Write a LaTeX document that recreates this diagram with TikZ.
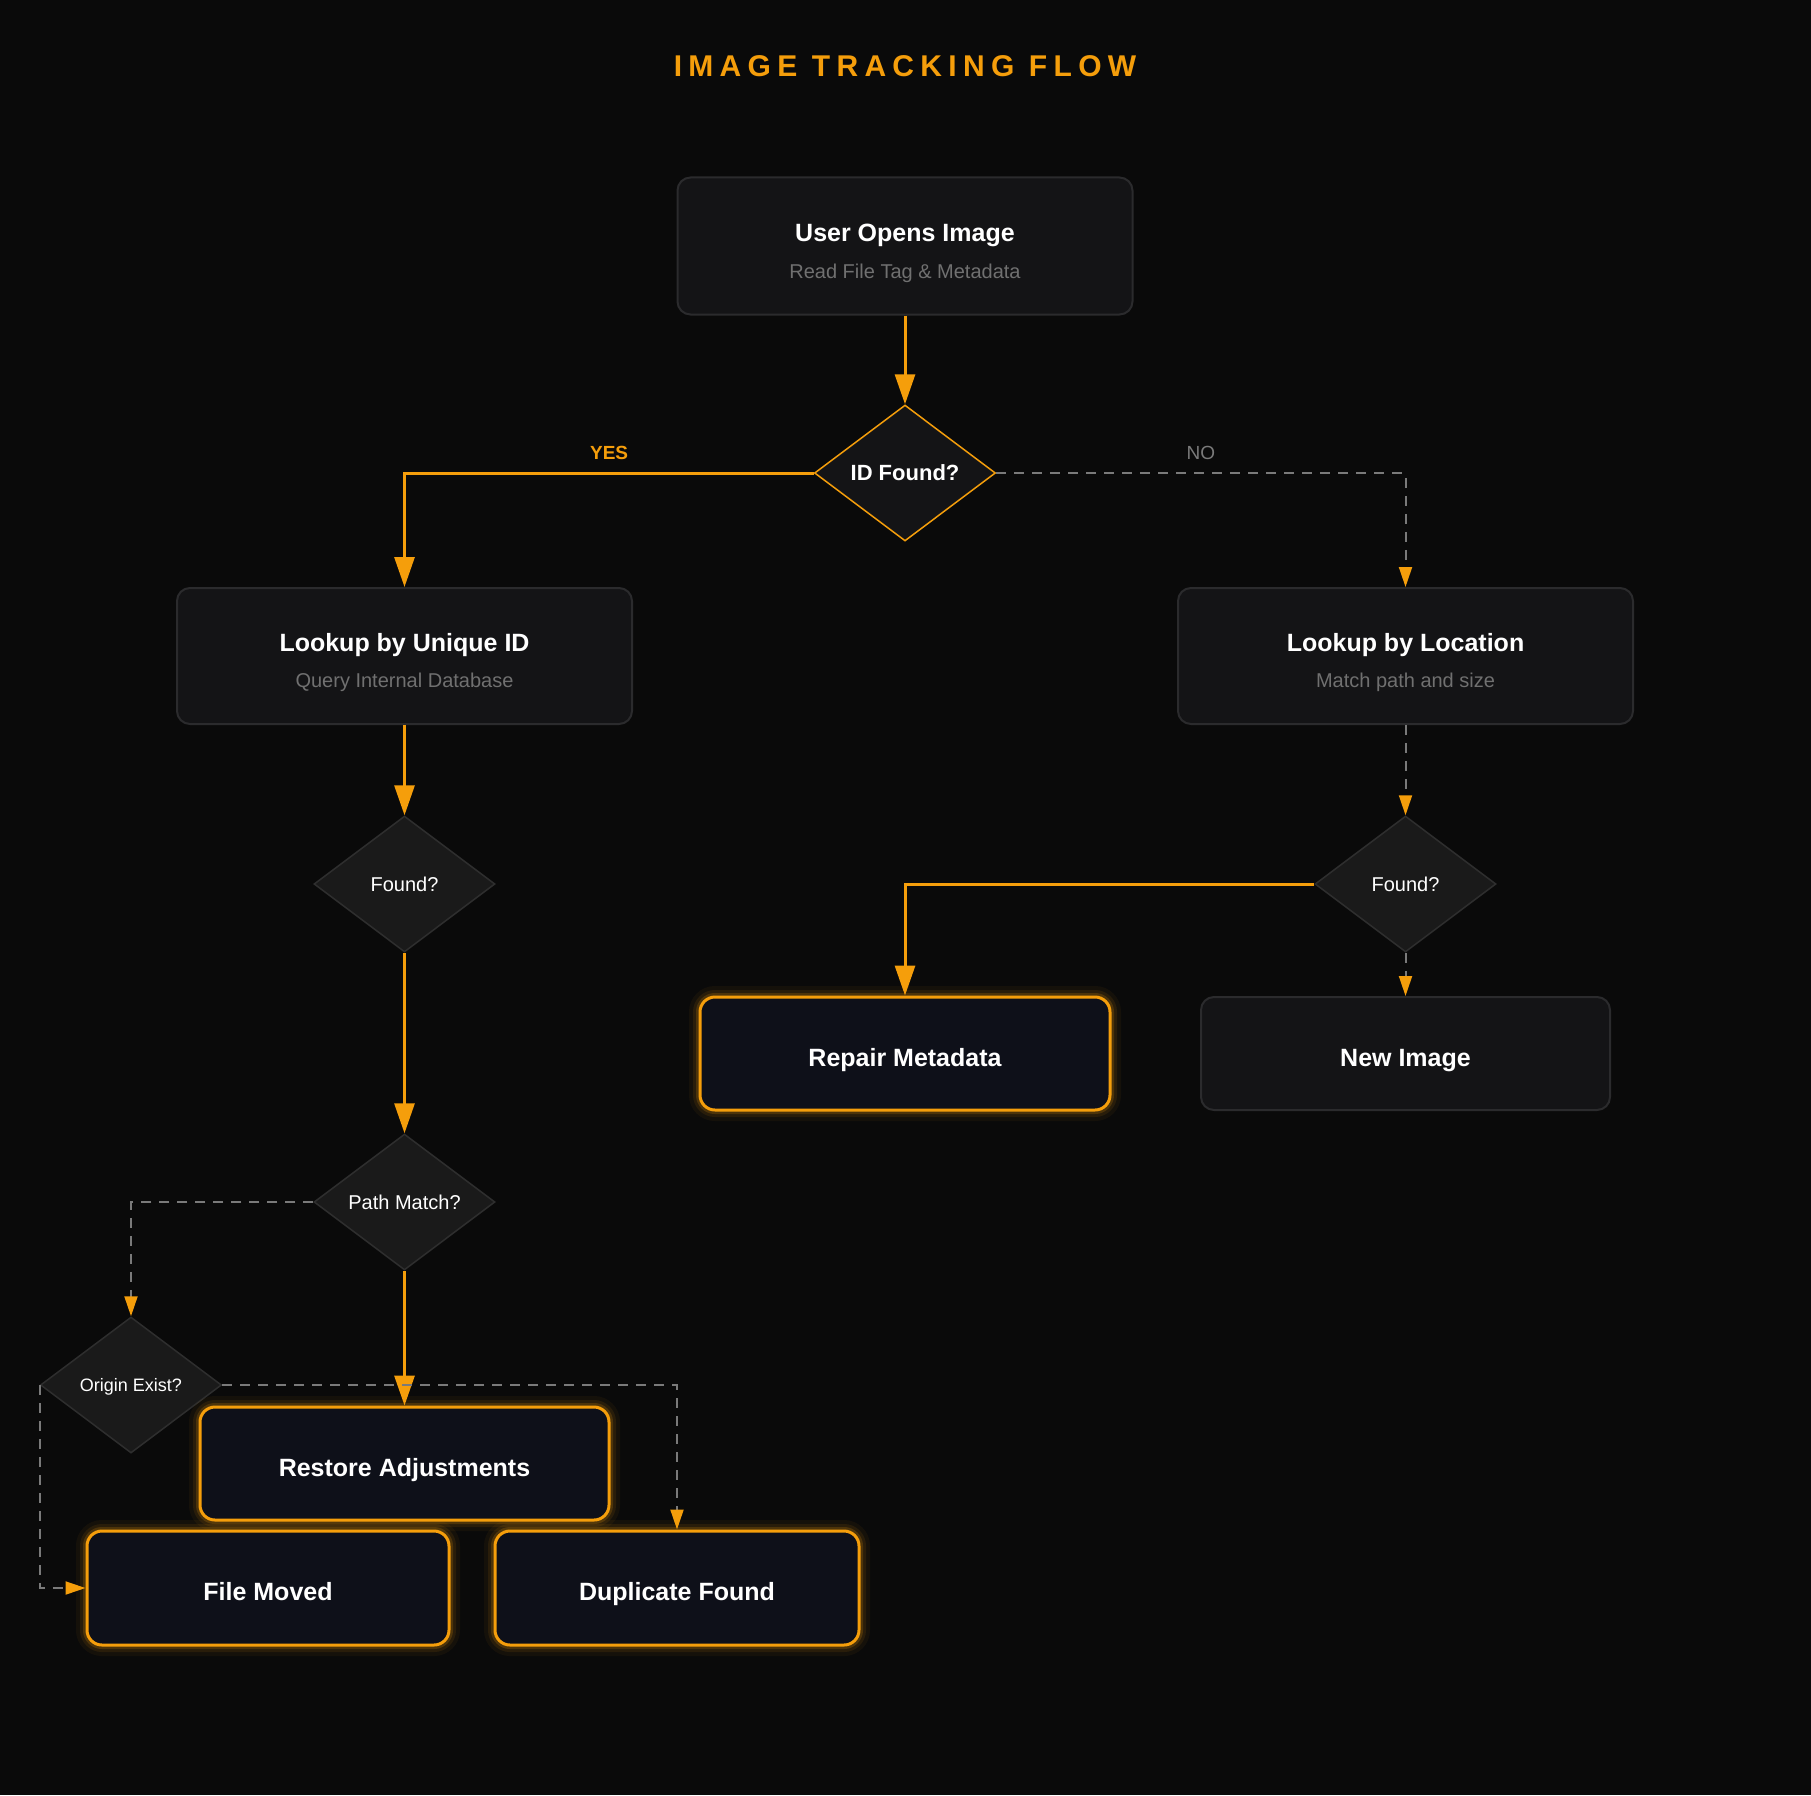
\documentclass[tikz,border=0pt]{standalone}
\usepackage{fontspec}
\setmainfont{Liberation Sans}
\newfontfamily\titlefont{Liberation Sans}[LetterSpace=21]
\usetikzlibrary{shapes.geometric,arrows.meta}
\definecolor{bg}{HTML}{0A0A0A}
\definecolor{boxfill}{HTML}{141416}
\definecolor{boxline}{HTML}{2B2B2D}
\definecolor{hotfill}{HTML}{0E1019}
\definecolor{orng}{HTML}{F59E0B}
\definecolor{diafill}{HTML}{1A1A1A}
\definecolor{dialine}{HTML}{2E2E2E}
\definecolor{subgray}{HTML}{707070}
\definecolor{dashgray}{HTML}{7A7A7A}
\begin{document}
\begin{tikzpicture}[x=1pt,y=-1pt,
  box/.style={draw=boxline, line width=2pt, fill=boxfill, rounded corners=13pt, inner sep=0pt},
  hot/.style={draw=orng, line width=3pt, fill=hotfill, rounded corners=15pt, inner sep=0pt,
    text=white, font=\fontsize{25}{30}\selectfont\bfseries, text height=25pt, text depth=0pt,
    preaction={draw=orng, line width=22pt, draw opacity=0.05},
    preaction={draw=orng, line width=14pt, draw opacity=0.09},
    preaction={draw=orng, line width=8pt, draw opacity=0.18}},
  ttl/.style={anchor=base, inner sep=0pt, text=white, font=\fontsize{25}{30}\selectfont\bfseries},
  sub/.style={anchor=base, inner sep=0pt, text=subgray, font=\fontsize{20}{24}\selectfont},
  dia/.style={diamond, draw=dialine, fill=diafill, line width=1.5pt, minimum width=181pt,
    minimum height=136pt, inner sep=0pt, text=white, font=\fontsize{20}{24}\selectfont,
    text depth=0pt},
  flow/.style={draw=orng, line width=3pt, -{Triangle[width=20pt,length=30pt]}},
  alt/.style={draw=dashgray, line width=2pt, dash pattern=on 10pt off 8pt,
    -{Triangle[width=13pt,length=20pt,color=orng,fill=orng]}}
]
\useasboundingbox (0,0) rectangle (1811,1795);
\fill[bg] (0,0) rectangle (1811,1795);

\node[anchor=base, inner sep=0pt, text=orng, font=\titlefont\fontsize{30}{36}\selectfont\bfseries] (title) at (905,77) {IMAGE TRACKING FLOW};

% top box
\node[box, minimum width=455pt, minimum height=137pt] (start) at (905,246) {};
\node[ttl] (startT) at (905,242) {User Opens Image};
\node[sub] (startS) at (905,278) {Read File Tag \& Metadata};

% ID found
\node[dia, draw=orng, fill=boxfill, font=\fontsize{22}{26}\selectfont\bfseries] (idf) at (905,473) {ID Found?};

% lookups
\node[box, minimum width=455pt, minimum height=136pt] (lookid) at (404.5,656) {};
\node[ttl] (lookidT) at (404.5,651) {Lookup by Unique ID};
\node[sub] (lookidS) at (404.5,687) {Query Internal Database};

\node[box, minimum width=455pt, minimum height=136pt] (lookloc) at (1405.5,656) {};
\node[ttl] (looklocT) at (1405.5,651) {Lookup by Location};
\node[sub] (looklocS) at (1405.5,687) {Match path and size};

% found diamonds
\node[dia] (foundL) at (404.5,884) {Found?};
\node[dia] (foundR) at (1405.5,884) {Found?};

% results right
\node[hot, minimum width=410pt, minimum height=113pt] (repair) at (905,1053.5) {Repair Metadata};
\node[box, minimum width=409pt, minimum height=113pt, text=white, font=\fontsize{25}{30}\selectfont\bfseries, text height=25pt, text depth=0pt] (newimg) at (1405.5,1053.5) {New Image};

% path match / origin
\node[dia] (pathm) at (404.5,1202) {Path Match?};
\node[dia, font=\fontsize{18}{22}\selectfont] (origin) at (131,1385) {Origin Exist?};

% bottom results
\node[hot, minimum width=409pt, minimum height=113pt] (restore) at (404.5,1463.5) {Restore Adjustments};
\node[hot, minimum width=362pt, minimum height=114pt] (moved) at (268,1588) {File Moved};
\node[hot, minimum width=364pt, minimum height=114pt] (dup) at (677,1588) {Duplicate Found};

% connectors
\draw[flow] (start.south) -- (idf.north);
\draw[flow] (idf.west) -| node[pos=0.25, yshift=20pt, text=orng, font=\fontsize{19}{22}\selectfont\bfseries] (yes) {YES} (lookid.north);
\draw[alt] (idf.east) -| node[pos=0.25, yshift=20pt, text=dashgray, font=\fontsize{19}{22}\selectfont] (no) {NO} (lookloc.north);
\draw[flow] (lookid.south) -- (foundL.north);
\draw[alt] (lookloc.south) -- (foundR.north);
\draw[flow] (foundL.south) -- (pathm.north);
\draw[flow] (foundR.west) -| (repair.north);
\draw[alt] (foundR.south) -- (newimg.north);
\draw[alt] (pathm.west) -| (origin.north);
\draw[flow] (pathm.south) -- (restore.north);
\draw[alt] (origin.east) -| (dup.north);
\draw[alt] (origin.west) |- (moved.west);
\end{tikzpicture}
\end{document}
